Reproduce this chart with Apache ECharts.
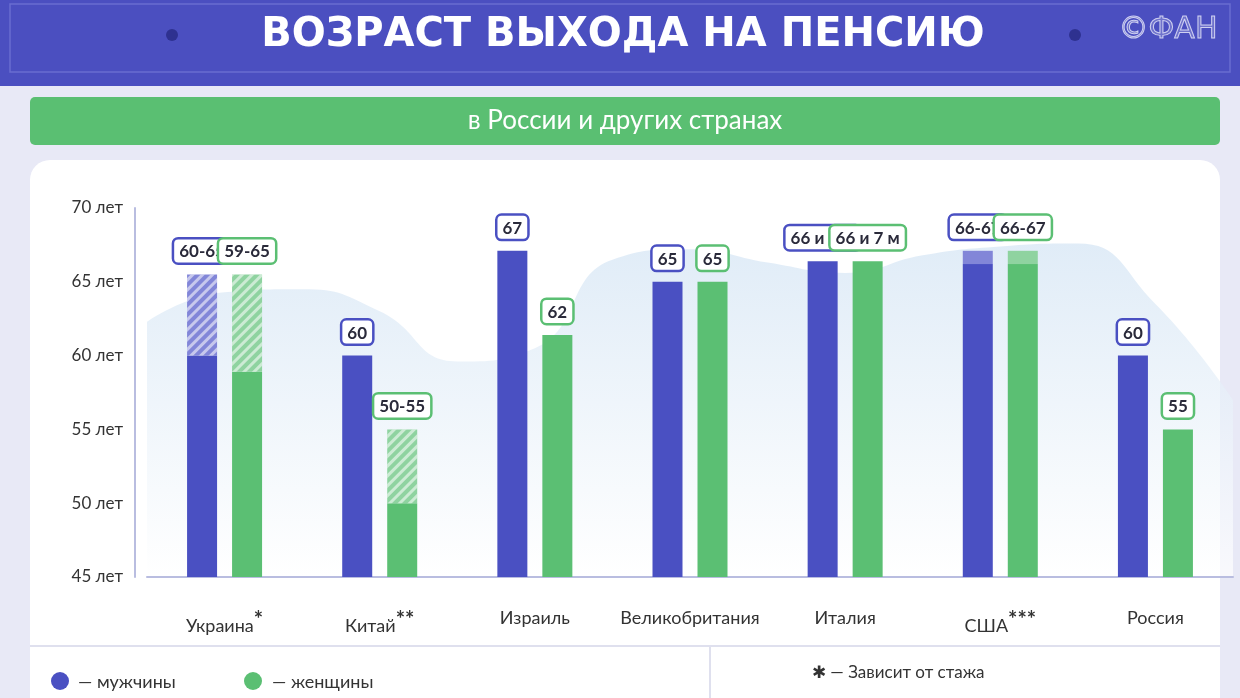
<!DOCTYPE html>
<html><head><meta charset="utf-8">
<script src="https://cdn.jsdelivr.net/npm/echarts@6/dist/echarts.min.js"></script>
<style>html,body{margin:0;padding:0;background:#e8e9f6;}#c{width:1240px;height:698px;}</style>
</head><body><div id="c"></div>
<script>
const categories = ['Украина','Китай','Израиль','Великобритания','Италия','США','Россия'];
const catStars = ['*','**','','','','***',''];
const menBase = [60, 60, 67.1, 65, 66.4, 66.2, 60];
const menExtra = [5.5, 0, 0, 0, 0, 0.9, 0];
const womenBase = [58.9, 50, 61.4, 65, 66.4, 66.2, 55];
const womenExtra = [6.6, 5, 0, 0, 0, 0.9, 0];
const menLabels = ['60-65','60','67','65','66 и 7 м','66-67','60'];
const womenLabels = ['59-65','50-55','62','65','66 и 7 м','66-67','55'];
const extraKind = ['hatch','hatch','none','none','none','light','none'];
const bgWave = [62.3, 64.3, 64.5, 63, 59.6, 60.5, 66.5, 67.2, 66.3, 65.6, 66.8, 67.4, 67.6, 63.5, 57];
const BLUE='#4a50c2', GREEN='#5bbf73';
const chart = echarts.init(document.getElementById('c'));
function extraData(vals, color, light){
  return vals.map((v,i)=>({value:v, itemStyle: extraKind[i]==='hatch'
    ? {color: light, decal:{symbol:'rect',dashArrayX:[1,0],dashArrayY:[3,4],rotation:-Math.PI/4,color:'rgba(255,255,255,0.55)'}}
    : {color: light, decal:{symbol:'none'}}}));
}
function lbl(labels,color){
  return {show:true,position:'top',distance:12,formatter:p=>labels[p.dataIndex],
    backgroundColor:'#fff',borderColor:color,borderWidth:2.5,borderRadius:4,padding:[4,5,2,5],
    color:'#2a2a3a',fontWeight:'bold',fontSize:17,fontFamily:'Lato'};
}
chart.setOption({
  aria:{enabled:false, decal:{show:false}},
  graphic:[
    {type:'rect',shape:{x:0,y:0,width:1240,height:86},style:{fill:'#4b4fc0'}},
    {type:'rect',shape:{x:10,y:4,width:1220,height:68},style:{fill:'none',stroke:'#6a6ed0',lineWidth:1.5}},
    {type:'circle',shape:{cx:172,cy:35,r:6},style:{fill:'#2e3190'}},
    {type:'circle',shape:{cx:1075,cy:35,r:6},style:{fill:'#2e3190'}},
    {type:'text',x:623,y:36,style:{text:'ВОЗРАСТ ВЫХОДА НА ПЕНСИЮ',fill:'#fff',font:'bold 40px "DejaVu Sans"',align:'center',verticalAlign:'middle'}},
    {type:'text',x:1168,y:30,style:{text:'©ФАН',fill:'rgba(255,255,255,0.2)',stroke:'#c9cbef',lineWidth:1,font:'30px "DejaVu Sans"',align:'center',verticalAlign:'middle'}},
    {type:'rect',shape:{x:30,y:97,width:1190,height:48,r:5},style:{fill:'#5abf72'}},
    {type:'text',x:625,y:121,style:{text:'в России и других странах',fill:'#fff',font:'26px Lato',align:'center',verticalAlign:'middle'}},
    {type:'rect',z:-10,shape:{x:30,y:160,width:1190,height:560,r:20},style:{fill:'#fff'}},
    {type:'line',shape:{x1:30,y1:646,x2:1220,y2:646},style:{stroke:'#dfe0ee',lineWidth:2}},
    {type:'line',shape:{x1:710,y1:646,x2:710,y2:698},style:{stroke:'#dfe0ee',lineWidth:2}},
    {type:'circle',shape:{cx:60,cy:681,r:9},style:{fill:BLUE}},
    {type:'text',x:78,y:682,style:{text:'— мужчины',fill:'#333',font:'18px Lato',verticalAlign:'middle'}},
    {type:'circle',shape:{cx:253,cy:681,r:9},style:{fill:GREEN}},
    {type:'text',x:272,y:682,style:{text:'— женщины',fill:'#333',font:'18px Lato',verticalAlign:'middle'}},
    {type:'text',x:812,y:673,style:{text:'✱ — Зависит от стажа',fill:'#333',font:'17px Lato',verticalAlign:'middle'}}
  ],
  grid:{left:147,right:7,top:208,bottom:121},
  xAxis:[
    {type:'category',data:categories,axisTick:{show:false},
     axisLine:{lineStyle:{color:'#b9bde0',width:2}},
     axisLabel:{margin:32,interval:0,formatter:(v,i)=>v+(catStars[i]?'{s|'+catStars[i]+'}':''),
       color:'#333',fontSize:18,fontFamily:'Lato',rich:{s:{fontSize:22,fontWeight:'bold',verticalAlign:'top',padding:[0,0,12,0],color:'#333'}}}},
    {type:'category',data:bgWave.map((v,i)=>i),boundaryGap:false,show:false}
  ],
  yAxis:{type:'value',min:45,max:70,interval:5,offset:12,
    axisLine:{show:true,lineStyle:{color:'#b9bde0',width:2}},axisTick:{show:false},splitLine:{show:false},
    axisLabel:{formatter:v=>v+' лет',color:'#333',fontSize:17,fontFamily:'Lato',margin:12}},
  series:[
    {type:'line',xAxisIndex:1,data:bgWave,smooth:0.5,symbol:'none',silent:true,z:0,lineStyle:{width:0},
     areaStyle:{origin:'start',color:{type:'linear',x:0,y:0,x2:0,y2:1,colorStops:[{offset:0,color:'#d3e4f4'},{offset:1,color:'#ffffff'}]}}},
    {type:'bar',name:'m',stack:'m',data:menBase,barWidth:30,barGap:'50%',itemStyle:{color:BLUE},z:3},
    {type:'bar',name:'m2',stack:'m',data:extraData(menExtra,BLUE,'#8286d8'),barWidth:30,barGap:'50%',z:3,label:lbl(menLabels,BLUE)},
    {type:'bar',name:'w',stack:'w',data:womenBase,barWidth:30,itemStyle:{color:GREEN},z:3},
    {type:'bar',name:'w2',stack:'w',data:extraData(womenExtra,GREEN,'#8fd3a0'),barWidth:30,z:3,label:lbl(womenLabels,GREEN)}
  ]
});
</script></body></html>
